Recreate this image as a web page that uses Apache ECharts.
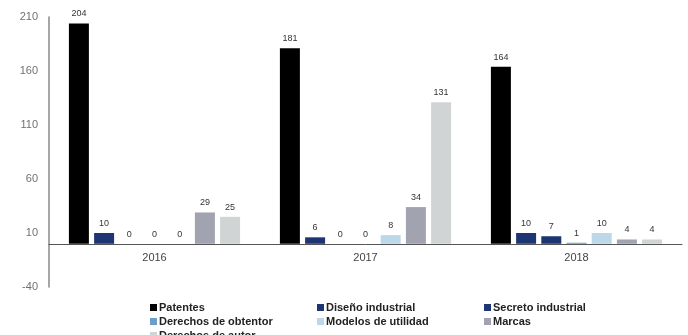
<!DOCTYPE html>
<html><head><meta charset="utf-8">
<script src="https://cdn.jsdelivr.net/npm/echarts@6/dist/echarts.min.js"></script>
<style>html,body{margin:0;padding:0;background:#fff}#c{width:688px;height:335px}</style>
</head><body><div id="c"></div>
<script>
const categories = ['2016', '2017', '2018'];
const seriesNames = ['Patentes', 'Diseño industrial', 'Secreto industrial', 'Derechos de obtentor', 'Modelos de utilidad', 'Marcas', 'Derechos de autor'];
const patentes = [204, 181, 164];
const disenoIndustrial = [10, 6, 10];
const secretoIndustrial = [0, 0, 7];
const derechosObtentor = [0, 0, 1];
const modelosUtilidad = [0, 8, 10];
const marcas = [29, 34, 4];
const derechosAutor = [25, 131, 4];
const yTicks = [-40, 10, 60, 110, 160, 210];
const colors = ['#000000', '#1d3573', '#1d3573', '#6d9ec9', '#bcd7e7', '#a1a3b0', '#d1d4d4'];

const values = [patentes, disenoIndustrial, secretoIndustrial, derechosObtentor, modelosUtilidad, marcas, derechosAutor];
const chart = echarts.init(document.getElementById('c'));
chart.setOption({
  animation: false,
  textStyle: { fontFamily: 'Liberation Sans, Arial, sans-serif' },
  grid: { left: 49, right: 6, top: 17, bottom: 48, containLabel: false },
  legend: {
    left: 145, top: 296, width: 540, orient: 'horizontal',
    itemWidth: 7, itemHeight: 7, itemGap: 1, icon: 'rect',
    textStyle: { fontSize: 11, fontWeight: 'bold', color: '#222', width: 157, lineHeight: 13, padding: [0, 0, 0, -3] },
    data: seriesNames
  },
  xAxis: {
    type: 'category', data: categories,
    offset: -43,
    axisLine: { onZero: false, lineStyle: { color: '#555', width: 1 } },
    axisTick: { show: false },
    axisLabel: { fontSize: 11, color: '#444', margin: 8 }
  },
  yAxis: {
    type: 'value', min: -40, max: 210,
    splitLine: { show: false },
    axisLine: { show: true, lineStyle: { color: '#888', width: 1.5 } },
    axisTick: { show: false },
    axisLabel: { fontSize: 11, color: '#707070', margin: 11, customValues: yTicks }
  },
  series: seriesNames.map((n, i) => ({
    name: n, type: 'bar', data: values[i],
    barWidth: 20, barGap: '26%',
    itemStyle: { color: colors[i] },
    label: { show: true, position: 'top', distance: 5, fontSize: 9, color: '#333' }
  }))
});
</script></body></html>
